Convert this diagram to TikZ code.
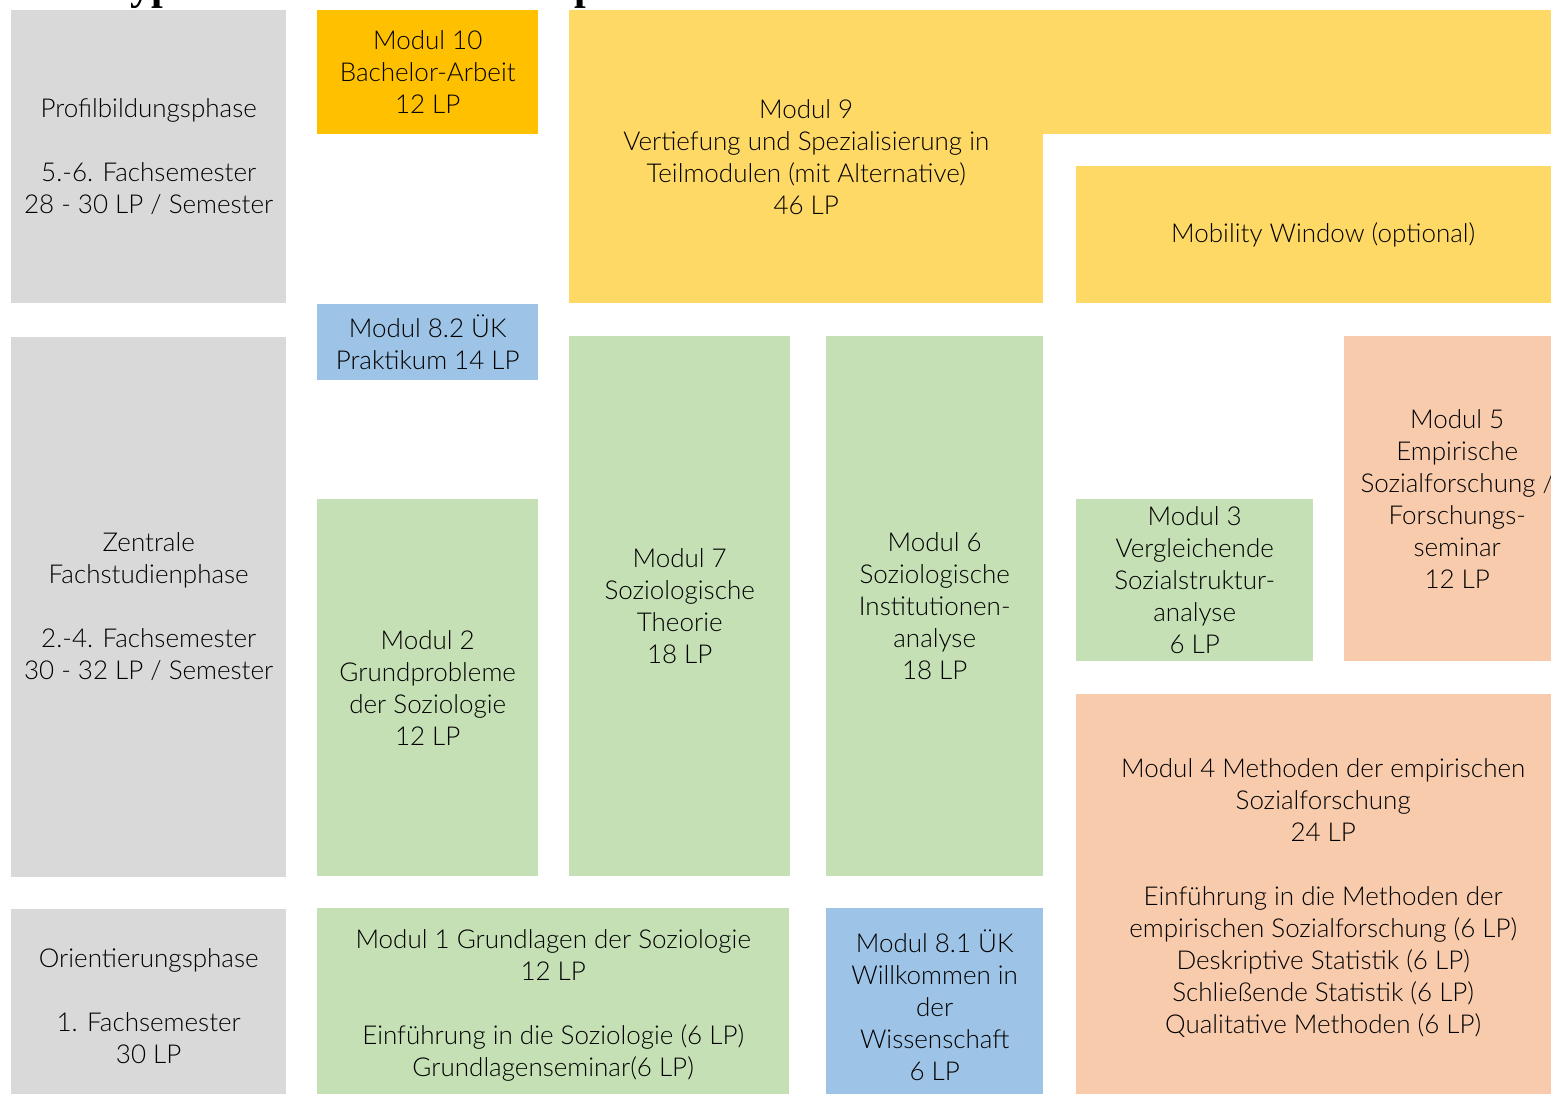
\documentclass[tikz,border=0pt]{standalone}
\usepackage{fontspec}
\setmainfont{Lato Light}
\newfontfamily\titlefont{Liberation Serif}
\usetikzlibrary{positioning}

\definecolor{phasegrey}{HTML}{D9D9D9}
\definecolor{arbeitorange}{HTML}{FFC000}
\definecolor{vertiefyellow}{HTML}{FFD966}
\definecolor{praxisblue}{HTML}{9DC3E6}
\definecolor{kerngreen}{HTML}{C5E0B4}
\definecolor{methodpeach}{HTML}{F8CBAD}

\tikzset{
  block/.style={anchor=north west,inner sep=0pt,align=center,
                font=\fontsize{26}{32}\selectfont},
  phase/.style={block,fill=phasegrey,minimum width=275pt},
}

\begin{document}
\begin{tikzpicture}[x=1pt,y=-1pt]
\useasboundingbox (0,0) rectangle (1551,1094);
\clip (0,0) rectangle (1551,1094);

% title, cut off by the page edge
\node[anchor=base west,inner sep=0pt,
      font=\titlefont\bfseries\fontsize{42}{50}\selectfont] (title) at (25,0)
      {Idealtypischer Studienverlaufsplan};

% phases
\node[phase,minimum height=293pt] (profil) at (11,10)
      {Profilbildungsphase\\[32pt]5.-6. Fachsemester\\28 - 30 LP / Semester};
\node[phase,minimum height=540pt] (zentral) [below=33pt of profil]
      {Zentrale\\Fachstudienphase\\[32pt]2.-4. Fachsemester\\30 - 32 LP / Semester};
\node[phase,minimum height=194pt] (orient) [below=32pt of zentral]
      {Orientierungsphase\\[32pt]1. Fachsemester\\30 LP};

% modules
\node[block,fill=arbeitorange,minimum width=221pt,minimum height=124pt] (modul10) at (317,10)
      {Modul 10\\Bachelor-Arbeit\\12 LP};
\node[block,fill=praxisblue,minimum width=221pt,minimum height=76pt] (modul82) at (317,304)
      {Modul 8.2 ÜK\\Praktikum 14 LP};
\node[block,fill=kerngreen,minimum width=221pt,minimum height=377pt] (modul2) at (317,499)
      {Modul 2\\Grundprobleme\\der Soziologie\\12 LP};
\node[block,fill=kerngreen,minimum width=472pt,minimum height=194pt] (modul1) at (317,908)
      {Modul 1 Grundlagen der Soziologie\\12 LP\\[32pt]Einführung in die Soziologie (6 LP)\\Grundlagenseminar(6 LP)};
\node[block,fill=kerngreen,minimum width=221pt,minimum height=540pt] (modul7) at (569,336)
      {Modul 7\\Soziologische\\Theorie\\18 LP};
\node[block,fill=kerngreen,minimum width=217pt,minimum height=540pt] (modul6) at (826,336)
      {Modul 6\\Soziologische\\Institutionen-\\analyse\\18 LP};
\node[block,fill=praxisblue,minimum width=217pt,minimum height=194pt] (modul81) at (826,908)
      {Modul 8.1 ÜK\\Willkommen in\\der\\Wissenschaft\\6 LP};

\node[block,fill=vertiefyellow,minimum width=474pt,minimum height=293pt] (modul9) at (569,10)
      {Modul 9\\Vertiefung und Spezialisierung in\\Teilmodulen (mit Alternative)\\46 LP};
\fill[vertiefyellow] (modul9.north east) rectangle (1570,134);
\node[block,fill=vertiefyellow,minimum width=494pt,minimum height=137pt] (mobility) at (1076,166)
      {Mobility Window (optional)};

\node[block,fill=kerngreen,minimum width=237pt,minimum height=162pt] (modul3) at (1076,499)
      {Modul 3\\Vergleichende\\Sozialstruktur-\\analyse\\6 LP};
\node[block,fill=methodpeach,minimum width=226pt,minimum height=325pt] (modul5) at (1344,336)
      {Modul 5\\Empirische\\Sozialforschung /\\Forschungs-\\seminar\\12 LP};
\node[block,fill=methodpeach,minimum width=494pt,minimum height=408pt] (modul4) at (1076,694)
      {Modul 4 Methoden der empirischen\\Sozialforschung\\24 LP\\[32pt]Einführung in die Methoden der\\empirischen Sozialforschung (6 LP)\\Deskriptive Statistik (6 LP)\\Schließende Statistik (6 LP)\\Qualitative Methoden (6 LP)};
\end{tikzpicture}
\end{document}
